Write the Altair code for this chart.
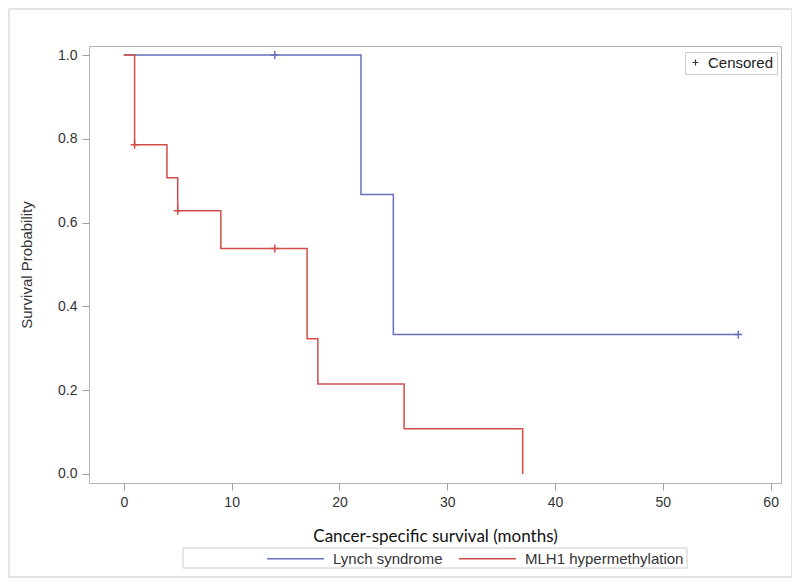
import altair as alt
import pandas as pd

# ---- data ----
series = ["Lynch syndrome", "MLH1 hypermethylation"]
colors = ["#6672b9", "#d24d47"]

lynch_time = [0, 22, 25, 57]
lynch_surv = [1.0, 0.667, 0.333, 0.333]
mlh1_time = [0, 1, 4, 5, 9, 17, 18, 26, 37]
mlh1_surv = [1.0, 0.786, 0.707, 0.628, 0.538, 0.323, 0.215, 0.108, 0.0]

lynch_cens_time = [14, 57]
lynch_cens_surv = [1.0, 0.333]
mlh1_cens_time = [1, 5, 14]
mlh1_cens_surv = [0.786, 0.628, 0.538]

x_ticks = [0, 10, 20, 30, 40, 50, 60]
y_ticks = [0.0, 0.2, 0.4, 0.6, 0.8, 1.0]

PLUS = "M-1,0L1,0M0,-1L0,1"

# ---- tables ----
rows = []
for i, (t, s) in enumerate(zip(lynch_time, lynch_surv)):
    rows.append({"series": series[0], "time": t, "surv": s, "idx": i})
for i, (t, s) in enumerate(zip(mlh1_time, mlh1_surv)):
    rows.append({"series": series[1], "time": t, "surv": s, "idx": i})
curves = pd.DataFrame(rows)

crow = []
for t, s in zip(lynch_cens_time, lynch_cens_surv):
    crow.append({"series": series[0], "time": t, "surv": s, "kind": "Censored"})
for t, s in zip(mlh1_cens_time, mlh1_cens_surv):
    crow.append({"series": series[1], "time": t, "surv": s, "kind": "Censored"})
cens = pd.DataFrame(crow)

xscale = alt.Scale(domain=[-3.23, 60.96], nice=False, zero=False)
yscale = alt.Scale(domain=[-0.0215, 1.0215], nice=False, zero=False)

xaxis = alt.Axis(
    values=x_ticks, title="Cancer-specific survival (months)", format="d",
    titleFont="Lato", titleFontSize=17, titleFontWeight="normal", titleColor="#111111",
    titlePadding=19, labelPadding=5, tickSize=7, grid=False, domain=False,
    labelFont="Liberation Sans", labelFontSize=14, labelColor="#333333", tickColor="#a0a0a0",
)
yaxis = alt.Axis(
    values=y_ticks, title="Survival Probability", format=".1f",
    titleFont="Liberation Sans", titleFontSize=15, titleFontWeight="normal",
    titleColor="#333333", titlePadding=23, labelPadding=5, tickSize=7, grid=False, domain=False,
    labelFont="Liberation Sans", labelFontSize=14, labelColor="#333333", tickColor="#a0a0a0",
)

color = alt.Color(
    "series:N",
    scale=alt.Scale(domain=series, range=colors),
    legend=alt.Legend(
        orient="none", legendX=177, legendY=483, direction="horizontal",
        title=None, symbolType="stroke", symbolSize=3249, symbolStrokeWidth=1.5,
        labelFont="Liberation Sans", labelFontSize=15, labelColor="#333333",
        labelOffset=8, columnPadding=13, padding=0,
    ),
)

lines = alt.Chart(curves).mark_line(interpolate="step-after", strokeWidth=1.5).encode(
    x=alt.X("time:Q", scale=xscale, axis=xaxis),
    y=alt.Y("surv:Q", scale=yscale, axis=yaxis),
    color=color,
    order="idx:Q",
)

marks = alt.Chart(cens).mark_point(filled=False, size=64, strokeWidth=1.5, opacity=1).encode(
    x=alt.X("time:Q", scale=xscale),
    y=alt.Y("surv:Q", scale=yscale),
    color=alt.Color("series:N", scale=alt.Scale(domain=series, range=colors), legend=None),
    shape=alt.Shape(
        "kind:N",
        scale=alt.Scale(domain=["Censored"], range=[PLUS]),
        legend=alt.Legend(
            orient="none", legendX=596, legendY=6, title=None,
            strokeColor="#cccccc", padding=3, symbolSize=36,
            symbolStrokeColor="#333333", symbolFillColor="transparent",
            symbolStrokeWidth=1.2, labelOffset=5,
            labelFont="Liberation Sans", labelFontSize=15, labelColor="#222222",
        ),
    ),
)

# decorations: outer frame and series legend box
frame = alt.Chart(pd.DataFrame({"k": [0]})).mark_rect(
    fill="transparent", stroke="#dddddd", strokeWidth=1.5, clip=False
).encode(x=alt.value(-80), x2=alt.value(703), y=alt.value(-37), y2=alt.value(531))

legbox = alt.Chart(pd.DataFrame({"k": [0]})).mark_rect(
    fill="transparent", stroke="#cccccc", strokeWidth=1, clip=False
).encode(x=alt.value(94), x2=alt.value(598), y=alt.value(502), y2=alt.value(522))

chart = alt.layer(frame, legbox, lines, marks).properties(
    width=692, height=437,
    background="white",
    autosize=alt.AutoSizeParams(type="none"),
    padding={"left": 81, "top": 38, "right": 11, "bottom": 97},
).configure_view(
    stroke="#b4b4b4", strokeWidth=1
)

chart.save("out.html", embed_options={"renderer": "svg", "actions": False})
